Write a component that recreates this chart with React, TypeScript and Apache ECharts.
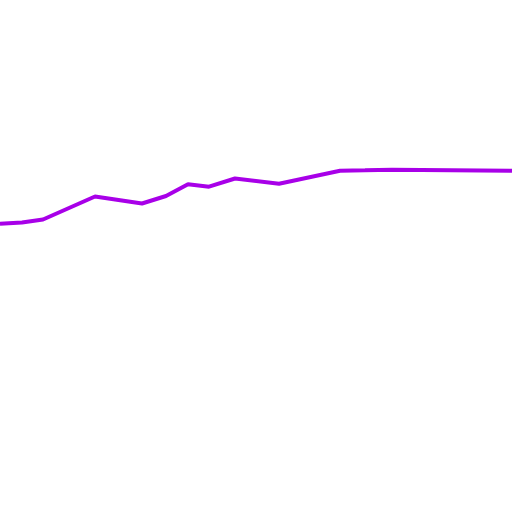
import React, { useEffect, useRef } from "react";
import * as echarts from "echarts";

const xValues = [0, 22, 43, 95, 142, 166, 188, 209, 235, 279, 340, 365, 392, 512];
const yValues = [288.3, 289.5, 292.5, 315.5, 308.5, 316, 327.7, 325.3, 333.5, 328.3, 341.3, 341.7, 342.3, 341.3];

export default function App() {
  const ref = useRef<HTMLDivElement>(null);
  useEffect(() => {
    if (!ref.current) return;
    const chart = echarts.init(ref.current, null, { renderer: "svg" });
    chart.setOption({
      animation: false,
      backgroundColor: "#ffffff",
      grid: { left: 0, right: 0, top: 0, bottom: 0 },
      xAxis: { type: "value", min: 0, max: 512, show: false },
      yAxis: { type: "value", min: 0, max: 512, show: false },
      series: [
        {
          type: "line",
          data: xValues.map((x, i) => [x, yValues[i]]),
          showSymbol: false,
          lineStyle: { color: "#a800e8", width: 4 },
        },
      ],
    });
    return () => chart.dispose();
  }, []);
  return (
    <div
      ref={ref}
      style={{ position: "fixed", left: 0, top: 0, width: 512, height: 512 }}
    />
  );
}
